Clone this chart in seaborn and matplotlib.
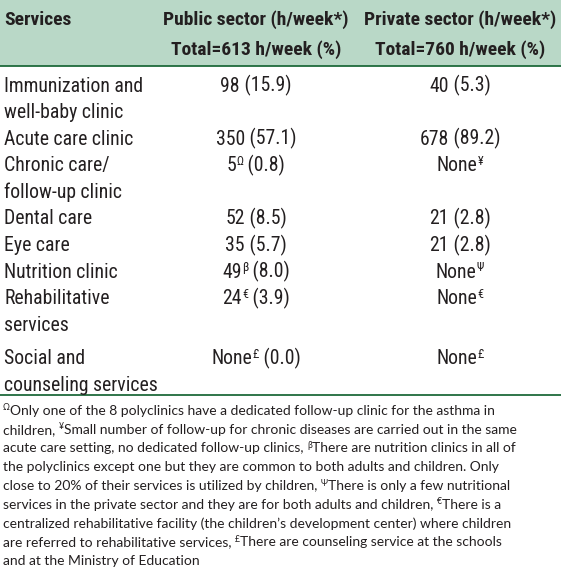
import matplotlib
matplotlib.use('Agg')
import matplotlib.pyplot as plt
from matplotlib import font_manager
import seaborn as sns

#------------------------------------------------
# table content
services=[['Immunization and', 'well-baby clinic'], ['Acute care clinic'],
          ['Chronic care/', 'follow-up clinic'], ['Dental care'], ['Eye care'],
          ['Nutrition clinic'], ['Rehabilitative', 'services'],
          ['Social and', 'counseling services']]
public_val=['98', '350', '5', '52', '35', '49', '24', 'None']
public_sup=['', '', '\u03a9', '', '', '\u03b2', '\u20ac', '\u00a3']
public_pct=['15.9', '57.1', '0.8', '8.5', '5.7', '8.0', '3.9', '0.0']
private_val=['40', '678', 'None', '21', '21', 'None', 'None', 'None']
private_sup=['', '', '\u00a5', '', '', '\u03a8', '\u20ac', '\u00a3']
private_pct=['5.3', '89.2', '', '2.8', '2.8', '', '', '']
header_1=['Services', 'Public sector (h/week*)', 'Private sector (h/week*)']
header_2=['', 'Total=613 h/week (%)', 'Total=760 h/week (%)']
footnote=[
    [('\u03a9', 1), ('Only one of the 8 polyclinics have a dedicated follow-up clinic for the asthma in', 0)],
    [('children, ', 0), ('\u00a5', 1), ('Small number of follow-up for chronic diseases are carried out in the same', 0)],
    [('acute care setting, no dedicated follow-up clinics, ', 0), ('\u03b2', 1), ('There are nutrition clinics in all of', 0)],
    [('the polyclinics except one but they are common to both adults and children. Only', 0)],
    [('close to 20% of their services is utilized by children, ', 0), ('\u03a8', 1), ('There is only a few nutritional', 0)],
    [('services in the private sector and they are for both adults and children, ', 0), ('\u20ac', 1), ('There is a', 0)],
    [('centralized rehabilitative facility (the children\u2019s development center) where children', 0)],
    [('are referred to rehabilitative services, ', 0), ('\u00a3', 1), ('There are counseling service at the schools', 0)],
    [('and at the Ministry of Education', 0)],
]

#------------------------------------------------
def pick_font(cands):
    for c in cands:
        try:
            font_manager.findfont(c, fallback_to_default=False)
            return c
        except Exception:
            pass
    return 'DejaVu Sans'

sns.set_theme(style='white')
f_tab=pick_font(['Liberation Sans Narrow', 'Roboto Condensed', 'Arial Narrow', 'Liberation Sans'])
f_note=pick_font(['Lato', 'Open Sans'])
plt.rcParams['font.family']=[f_tab, 'DejaVu Sans']

c_txt='#231f20'
c_bg='#b9d8c7'
c_line='#1f6a3b'
fs_body=14.2
fs_head=14

fig=plt.figure(figsize=(5.61, 5.78), dpi=100)
ax=fig.add_axes([0, 0, 1, 1])
ax.set_xlim(0, 561)
ax.set_ylim(578, 0)
ax.axis('off')
r=fig.canvas.get_renderer()

def runs(x, y, parts, ha='left', size=fs_body, weight='normal', family=None):
    #draw text pieces with superscripts, measure and align
    fam=family if family else [f_tab, 'DejaVu Sans']
    objs=[]
    for s, sup in parts:
        if s=='':
            continue
        t=ax.text(0, y - (size*0.45 if sup else 0), s, fontsize=size*0.62 if sup else size,
                  weight=weight, family=fam, color=c_txt, va='baseline', ha='left')
        objs.append(t)
    ws=[t.get_window_extent(r).width for t in objs]
    tot=sum(ws)
    x0=x if ha=='left' else x - tot/2
    for t, w in zip(objs, ws):
        t.set_x(x0)
        x0+=w

#header
ax.axhspan(0, 66, color=c_bg, lw=0)
ax.axhline(66, color=c_line, lw=1.3)
ax.axhline(395, color=c_line, lw=1.3)
ax.text(4, 25, header_1[0], fontsize=fs_head, weight='bold', color=c_txt, va='baseline')
for i, cx in zip([1, 2], [256, 460]):
    ax.text(cx, 25, header_1[i], fontsize=fs_head, weight='bold', color=c_txt, va='baseline', ha='center')
    ax.text(cx, 55, header_2[i], fontsize=fs_head, weight='bold', color=c_txt, va='baseline', ha='center')

#body
y=91.5
lh=26.6
for i, lines in enumerate(services):
    if i==7:
        y+=7
    for k, s in enumerate(lines):
        ax.text(4, y + k*lh, s, fontsize=fs_body, color=c_txt, va='baseline')
    p=[(public_val[i], 0), (public_sup[i], 1), (f' ({public_pct[i]})', 0)]
    runs(256, y, p, ha='center')
    q=[(private_val[i], 0), (private_sup[i], 1)]
    if private_pct[i]:
        q.append((f' ({private_pct[i]})', 0))
    runs(460, y, q, ha='center')
    y+=lh*len(lines)

#footnote
fy=415
for k, parts in enumerate(footnote):
    runs(3, fy + k*18.75, parts, size=10, family=[f_note, 'DejaVu Sans'])

plt.savefig('out.png', dpi=100)
plt.close()
